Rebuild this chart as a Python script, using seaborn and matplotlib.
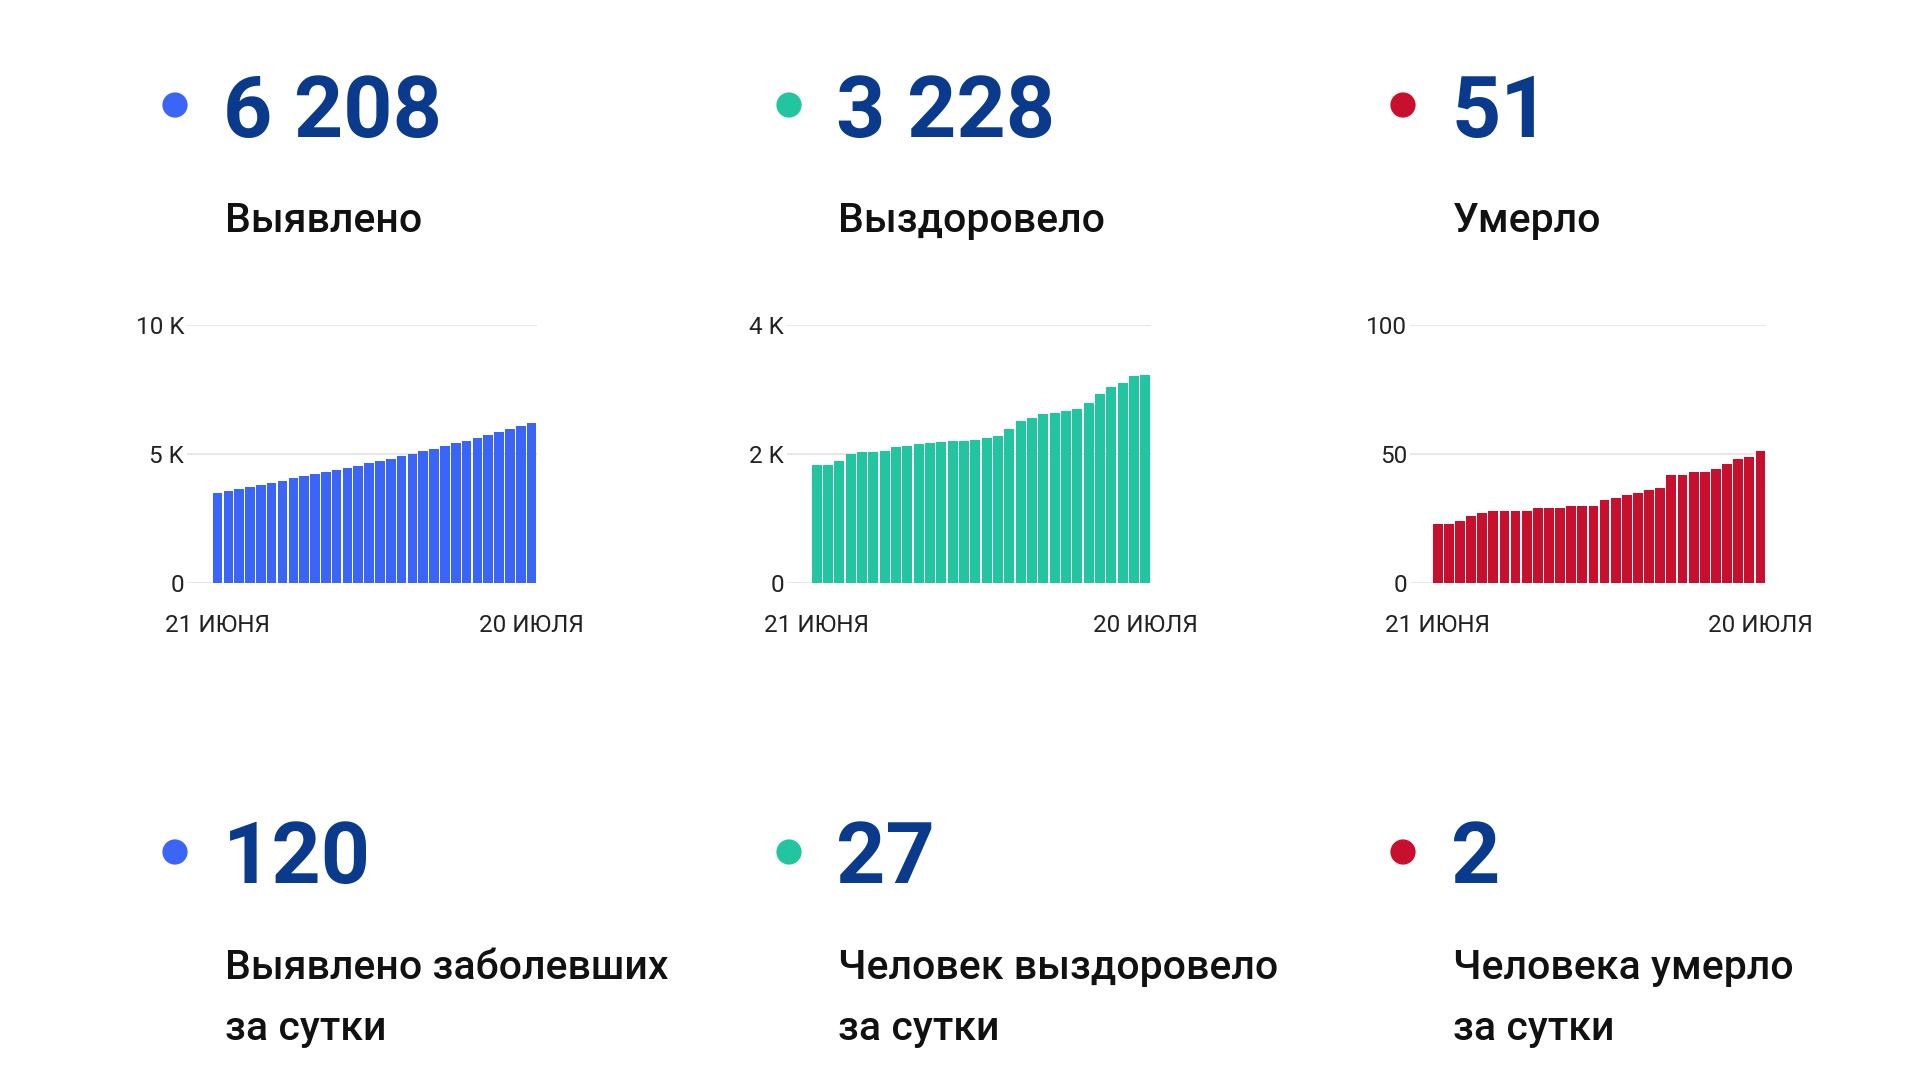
import matplotlib
matplotlib.use("Agg")
import matplotlib.pyplot as plt
import seaborn as sns
import pandas as pd

# ---------------- data ----------------
dates = [f"{d} июня" for d in range(21, 31)] + [f"{d} июля" for d in range(1, 21)]

detected = [3506, 3571, 3649, 3740, 3805, 3883, 3961, 4052, 4130, 4208,
            4286, 4377, 4468, 4545, 4636, 4714, 4805, 4909, 5013, 5104,
            5208, 5312, 5416, 5519, 5636, 5753, 5870, 5987, 6091, 6208]
recovered = [1823, 1829, 1886, 2005, 2031, 2036, 2052, 2114, 2125, 2151,
             2171, 2187, 2203, 2208, 2213, 2244, 2275, 2395, 2504, 2556,
             2618, 2639, 2665, 2696, 2790, 2925, 3044, 3096, 3205, 3228]
died = [23, 23, 24, 26, 27, 28, 28, 28, 28, 29,
        29, 29, 30, 30, 30, 32, 33, 34, 35, 36,
        37, 42, 42, 43, 43, 44, 46, 48, 49, 51]

totals = ["6 208", "3 228", "51"]
total_labels = ["Выявлено", "Выздоровело", "Умерло"]
daily = ["120", "27", "2"]
daily_labels = [["Выявлено заболевших", "за сутки"],
                ["Человек выздоровело", "за сутки"],
                ["Человека умерло", "за сутки"]]

y_ticks = [[0, 5000, 10000], [0, 2000, 4000], [0, 50, 100]]
y_ticklabels = [["0", "5 K", "10 K"], ["0", "2 K", "4 K"], ["0", "50", "100"]]
x_ticklabels = ["21 ИЮНЯ", "20 ИЮЛЯ"]

colors = ["#3b65f6", "#23c5a0", "#c8102e"]
navy = "#0a3a8c"

# ---------------- style ----------------
sns.set_theme(style="white")
plt.rcParams["font.family"] = ["Roboto", "DejaVu Sans"]

W, H = 1920, 1080
fig = plt.figure(figsize=(W / 100, H / 100), dpi=100)
fig.patch.set_facecolor("white")

# overlay axes in pixel coordinates for headline texts and dots
bg = fig.add_axes([0, 0, 1, 1])
bg.set_xlim(0, W)
bg.set_ylim(H, 0)
bg.axis("off")
bg.patch.set_alpha(0)

dot_x = [175, 789, 1403]
text_x = [225, 838, 1453]

for i in range(3):
    # top row
    bg.scatter([dot_x[i]], [105], s=330, color=colors[i], edgecolors="none", zorder=3)
    bg.text(text_x[i] - 2, 137, totals[i], fontsize=62, fontweight="bold",
            color=navy, va="baseline", ha="left")
    bg.text(text_x[i], 232, total_labels[i], fontsize=29.5, fontweight="medium",
            color="#111111", va="baseline", ha="left")
    # bottom row
    bg.scatter([dot_x[i]], [852], s=330, color=colors[i], edgecolors="none", zorder=3)
    bg.text(text_x[i] - 2, 883, daily[i], fontsize=62, fontweight="bold",
            color=navy, va="baseline", ha="left")
    for j, line in enumerate(daily_labels[i]):
        bg.text(text_x[i], 979 + 61 * j, line, fontsize=29.5, fontweight="medium",
                color="#111111", va="baseline", ha="left")

# ---------------- bar charts ----------------
series = [detected, recovered, died]
# (left px, right px, left padding in bar units)
geom = [(187, 537, 2.31), (787, 1151, 2.12), (1410, 1766, 1.98)]
top_px, bottom_px = 325, 583

for i in range(3):
    l, r, padl = geom[i]
    ax = fig.add_axes([l / W, 1 - bottom_px / H, (r - l) / W, (bottom_px - top_px) / H])
    df = pd.DataFrame({"date": dates, "value": series[i]})
    sns.barplot(data=df, x="date", y="value", color=colors[i], saturation=1,
                width=0.88, linewidth=0, ax=ax, zorder=3)
    ax.set_xlim(-0.5 - padl, len(dates) - 0.5)
    ax.set_ylim(0, y_ticks[i][-1])
    ax.set_yticks(y_ticks[i])
    ax.set_yticklabels(y_ticklabels[i])
    ax.set_xticks([0, len(dates) - 1])
    ax.set_xticklabels(x_ticklabels)
    ax.set_xlabel("")
    ax.set_ylabel("")
    for s in ax.spines.values():
        s.set_visible(False)
    ax.grid(axis="y", color="#e8e8e8", linewidth=1.5, zorder=0)
    ax.grid(axis="x", visible=False)
    ax.tick_params(axis="y", length=0, pad=2, labelsize=17.5, labelcolor="#222222")
    ax.tick_params(axis="x", length=0, pad=22, labelsize=17.5, labelcolor="#222222")
    ax.set_facecolor("none")
    ax.set_axisbelow(True)

fig.savefig("out.png", dpi=100, facecolor="white")
